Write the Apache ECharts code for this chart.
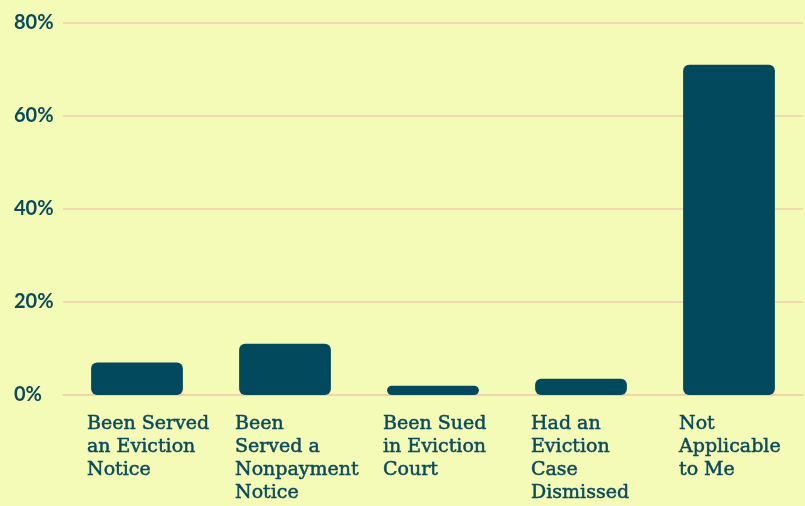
<!DOCTYPE html>
<html>
<head>
<meta charset="utf-8">
<script src="https://cdn.jsdelivr.net/npm/echarts@6/dist/echarts.min.js"></script>
<style>
  html, body { margin: 0; padding: 0; background: #f3fbb7; }
  #chart { width: 805px; height: 506px; }
</style>
</head>
<body>
<div id="chart"></div>
<script>
// survey categories
const categories = [
  'Been Served\nan Eviction\nNotice',
  'Been\nServed a\nNonpayment\nNotice',
  'Been Sued\nin Eviction\nCourt',
  'Had an\nEviction\nCase\nDismissed',
  'Not\nApplicable\nto Me'
]
const values = [7, 11, 2, 3.5, 71] // percent
const yTicks = [0, 20, 40, 60, 80]

const textColor = '#0b4a5c'
const barColor = '#02495d'
const gridColor = '#f2cfae'

let myChart = echarts.init(document.getElementById('chart'))
let option = {
  backgroundColor: '#f3fbb7',
  grid: { left: 63, right: 2, top: 23, bottom: 111, containLabel: false },
  xAxis: {
    type: 'category',
    data: categories,
    axisLine: { show: true, lineStyle: { color: gridColor, width: 1.5 } },
    axisTick: { show: false },
    axisLabel: {
      interval: 0,
      align: 'left',
      verticalAlign: 'top',
      margin: 18,
      padding: [0, 0, 0, -50],
      color: textColor,
      textBorderColor: textColor,
      textBorderWidth: 0.5,
      fontFamily: 'DejaVu Serif',
      fontSize: 19,
      lineHeight: 23
    }
  },
  yAxis: {
    type: 'value',
    min: 0,
    max: yTicks[yTicks.length - 1],
    interval: 20,
    splitLine: { lineStyle: { color: gridColor, width: 1.5 } },
    axisLine: { show: false },
    axisTick: { show: false },
    axisLabel: {
      formatter: '{value}%',
      align: 'left',
      margin: 49,
      color: textColor,
      fontFamily: 'Lato',
      fontWeight: 'bold',
      fontSize: 20
    }
  },
  series: [
    {
      type: 'bar',
      data: values,
      barWidth: '62%',
      itemStyle: { color: barColor, borderRadius: 6 }
    }
  ]
}
myChart.setOption(option)
</script>
</body>
</html>
